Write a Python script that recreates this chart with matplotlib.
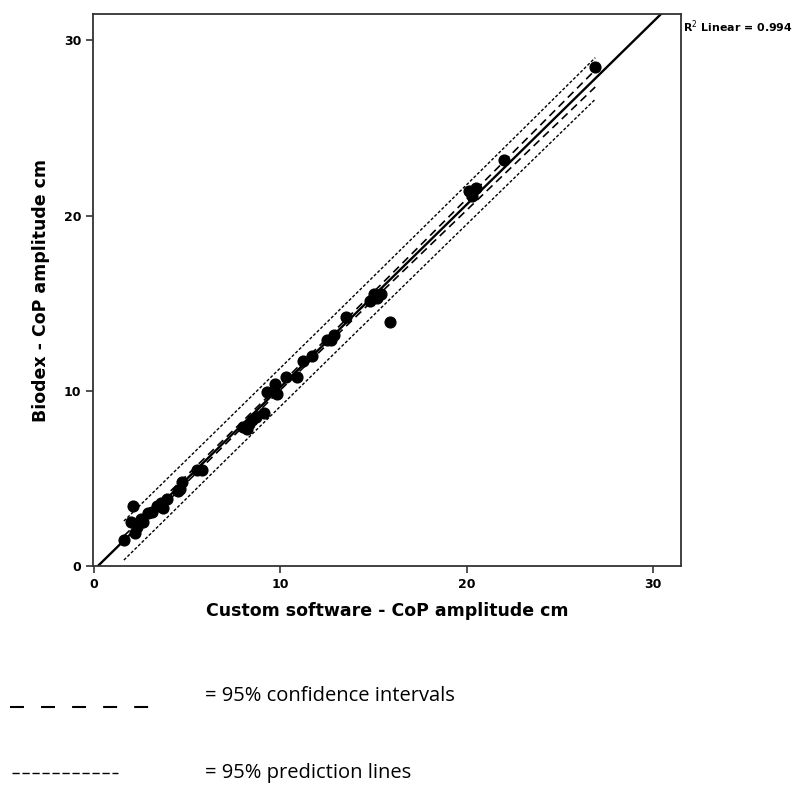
import numpy as np
import matplotlib.pyplot as plt
from matplotlib.lines import Line2D

# CoP amplitude (cm): custom software vs Biodex
custom = [1.6, 2.0, 2.1, 2.2, 2.3, 2.5, 2.6, 2.9, 3.1, 3.4, 3.6, 3.7, 3.9,
          4.5, 4.6, 4.7, 5.5, 5.8, 8.0, 8.2, 8.3, 8.5, 8.7, 9.1, 9.3, 9.7,
          9.8, 10.3, 10.9, 11.2, 11.7, 12.5, 12.7, 12.9, 13.5, 14.8, 15.0,
          15.2, 15.4, 15.9, 20.1, 20.3, 20.5, 22.0, 26.9]
biodex = [1.5, 2.5, 3.4, 1.9, 2.2, 2.7, 2.5, 3.0, 3.1, 3.4, 3.6, 3.3, 3.8,
          4.3, 4.4, 4.8, 5.5, 5.5, 7.9, 7.8, 8.1, 8.3, 8.5, 8.7, 9.9, 10.4,
          9.8, 10.8, 10.8, 11.7, 12.0, 12.9, 12.9, 13.2, 14.2, 15.1, 15.5,
          15.3, 15.5, 13.9, 21.4, 21.1, 21.6, 23.2, 28.5]
ticks = [0, 10, 20, 30]
r2_label = "0.994"

x = np.array(custom)
y = np.array(biodex)
n = len(x)

# linear fit with 95% confidence and prediction bands
b, a = np.polyfit(x, y, 1)
resid = y - (a + b * x)
s = np.sqrt(np.sum(resid**2) / (n - 2))
t = 2.015
xb = np.linspace(x.min(), x.max(), 200)
yb = a + b * xb
sxx = np.sum((x - x.mean())**2)
ci = t * s * np.sqrt(1 / n + (xb - x.mean())**2 / sxx)
pi = t * s * np.sqrt(1 + 1 / n + (xb - x.mean())**2 / sxx)

fig = plt.figure(figsize=(8.03, 7.87), dpi=100)
ax = fig.add_axes([0.116, 0.281, 0.732, 0.701])

xl = np.array([-2, 40])
ax.plot(xl, a + b * xl, color='black', lw=1.7)
ax.plot(xb, yb + ci, color='black', lw=1.2, dashes=(4.8, 3))
ax.plot(xb, yb - ci, color='black', lw=1.2, dashes=(4.8, 3))
ax.plot(xb, yb + pi, color='black', lw=1.0, dashes=(2.2, 1.4))
ax.plot(xb, yb - pi, color='black', lw=1.0, dashes=(2.2, 1.4))
ax.scatter(x, y, s=60, color='black', zorder=3)

ax.set_xlim(-0.05, 31.5)
ax.set_ylim(0, 31.5)
ax.set_xticks(ticks)
ax.set_yticks(ticks)
ax.tick_params(direction='out', length=5, width=1.2, colors='#333333',
               labelsize=9, labelcolor='black')
for lab in ax.get_xticklabels() + ax.get_yticklabels():
    lab.set_fontweight('bold')
for sp in ax.spines.values():
    sp.set_color('#333333')
    sp.set_linewidth(1.3)

ax.set_xlabel("Custom software - CoP amplitude cm", fontsize=12.5,
              fontweight='bold', labelpad=8)
ax.set_ylabel("Biodex - CoP amplitude cm", fontsize=12.5,
              fontweight='bold', labelpad=10)

fig.text(0.850, 0.966, "R$^2$ Linear = " + r2_label, fontsize=7.9,
         fontweight='bold', va='center')

# hand-drawn style key below the chart
fig.add_artist(Line2D([0.013, 0.187], [0.102, 0.102], color='black', lw=1.5,
                      dashes=(6.7, 8.2), transform=fig.transFigure))
fig.add_artist(Line2D([0.015, 0.147], [0.018, 0.018], color='black', lw=1.0,
                      dashes=(5.2, 2.0), transform=fig.transFigure))
fig.text(0.255, 0.115, "= 95% confidence intervals", fontsize=14.5,
         family='Open Sans', va='center')
fig.text(0.255, 0.018, "= 95% prediction lines", fontsize=14.5,
         family='Open Sans', va='center')

fig.savefig("out.png", dpi=100)
